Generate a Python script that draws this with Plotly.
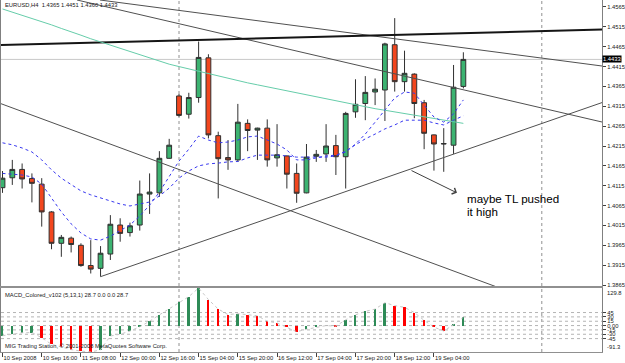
import plotly.graph_objects as go

# ---------------- data ----------------
bars = list(range(48))
x_ticks = [0, 4, 8, 12, 16, 20, 24, 28, 32, 36, 40, 44]
x_tick_labels = ["10 Sep 2008", "10 Sep 16:00", "11 Sep 08:00", "12 Sep 00:00", "12 Sep 16:00",
                 "15 Sep 04:00", "15 Sep 20:00", "16 Sep 12:00", "17 Sep 04:00", "17 Sep 20:00",
                 "18 Sep 12:00", "19 Sep 04:00"]

opens = [1.4110, 1.4135, 1.4156, 1.4133, 1.4119, 1.4049, 1.3970, 1.3983, 1.3965, 1.3914,
         1.3907, 1.3943, 1.4016, 1.3997, 1.4016, 1.4094, 1.4097, 1.4184, 1.4341, 1.4295,
         1.4337, 1.4437, 1.4241, 1.4186, 1.4180, 1.4272, 1.4255, 1.4260, 1.4185, 1.4190,
         1.4146, 1.4097, 1.4189, 1.4195, 1.4216, 1.4188, 1.4301, 1.4322, 1.4351, 1.4356,
         1.4470, 1.4377, 1.4396, 1.4324, 1.4243, 1.4220, 1.4217, 1.4365]
highs = [1.4152, 1.4180, 1.4171, 1.4146, 1.4134, 1.4051, 1.3991, 1.3987, 1.3970, 1.3978,
         1.3963, 1.4041, 1.4033, 1.4022, 1.4128, 1.4146, 1.4202, 1.4233, 1.4346, 1.4349,
         1.4478, 1.4446, 1.4251, 1.4230, 1.4321, 1.4282, 1.4261, 1.4282, 1.4270, 1.4191,
         1.4171, 1.4220, 1.4205, 1.4270, 1.4243, 1.4301, 1.4383, 1.4391, 1.4385, 1.4475,
         1.4537, 1.4455, 1.4398, 1.4331, 1.4244, 1.4260, 1.4419, 1.4451]
lows = [1.4097, 1.4117, 1.4108, 1.4073, 1.4012, 1.3955, 1.3936, 1.3947, 1.3911, 1.3894,
        1.3886, 1.3928, 1.3974, 1.3987, 1.4002, 1.4044, 1.4087, 1.4183, 1.4289, 1.4284,
        1.4324, 1.4234, 1.4083, 1.4155, 1.4175, 1.4202, 1.4180, 1.4163, 1.4163, 1.4108,
        1.4072, 1.4096, 1.4175, 1.4175, 1.4142, 1.4108, 1.4286, 1.4280, 1.4318, 1.4278,
        1.4352, 1.4352, 1.4285, 1.4207, 1.4153, 1.4150, 1.4195, 1.4360]
closes = [1.4134, 1.4156, 1.4132, 1.4121, 1.4049, 1.3970, 1.3985, 1.3967, 1.3914, 1.3905,
          1.3945, 1.4018, 1.3995, 1.4014, 1.4094, 1.4099, 1.4184, 1.4217, 1.4292, 1.4337,
          1.4438, 1.4243, 1.4183, 1.4180, 1.4275, 1.4254, 1.4260, 1.4180, 1.4193, 1.4144,
          1.4096, 1.4187, 1.4194, 1.4215, 1.4188, 1.4297, 1.4320, 1.4350, 1.4358, 1.4472,
          1.4377, 1.4398, 1.4322, 1.4247, 1.4220, 1.4221, 1.4363, 1.4433]

ma_fast = [1.4146, 1.4144, 1.4142, 1.4137, 1.4119, 1.4084, 1.4049, 1.4019, 1.3996, 1.3981,
           1.3978, 1.3988, 1.4001, 1.4016, 1.4039, 1.4066, 1.4099, 1.4137, 1.4177, 1.4207,
           1.4240, 1.4230, 1.4223, 1.4225, 1.4230, 1.4238, 1.4240, 1.4230, 1.4220, 1.4205,
           1.4180, 1.4180, 1.4185, 1.4190, 1.4192, 1.4200, 1.4220, 1.4245, 1.4275, 1.4306,
           1.4336, 1.4351, 1.4348, 1.4318, 1.4288, 1.4275, 1.4296, 1.4331]
ma_slow = [1.4223, 1.4218, 1.4210, 1.4200, 1.4180, 1.4155, 1.4134, 1.4117, 1.4102, 1.4092,
           1.4084, 1.4076, 1.4069, 1.4064, 1.4069, 1.4074, 1.4089, 1.4109, 1.4134, 1.4152,
           1.4165, 1.4170, 1.4172, 1.4175, 1.4176, 1.4185, 1.4192, 1.4192, 1.4192, 1.4190,
           1.4187, 1.4187, 1.4187, 1.4187, 1.4190, 1.4202, 1.4218, 1.4233, 1.4245, 1.4258,
           1.4268, 1.4280, 1.4280, 1.4280, 1.4273, 1.4268, 1.4280, 1.4291]
ma_long = [1.4560, 1.4552, 1.4545, 1.4537, 1.4528, 1.4520, 1.4511, 1.4503, 1.4494, 1.4485,
           1.4477, 1.4469, 1.4460, 1.4452, 1.4444, 1.4436, 1.4428, 1.4421, 1.4415, 1.4409,
           1.4403, 1.4397, 1.4391, 1.4385, 1.4380, 1.4374, 1.4369, 1.4364, 1.4358, 1.4353,
           1.4348, 1.4343, 1.4338, 1.4333, 1.4328, 1.4323, 1.4318, 1.4313, 1.4309, 1.4305,
           1.4301, 1.4296, 1.4292, 1.4288, 1.4284, 1.4280, 1.4276, 1.4272]

macd = [-35, -30, -25, -24, -42, -65, -75, -83, -88, -91.3,
        -84, -36, -30, -19, -4, 15, 37, 57, 80, 100,
        129.8, 90, 57, 38, 41, 37, 34, 15, 9, -6,
        -21, -13, -6, 0, -2, 20, 37, 49, 57, 79,
        69, 63, 45, 18, -5, -19, 3, 28.7]
macd_levels = [45, 30, 15, 0, -15, -30, -45]
macd_level_labels = ["45", "30", "15", "0.00", "-15", "-30", "-45"]
macd_max, macd_min = 129.8, -91.3

price_ticks = [1.3865, 1.3915, 1.3965, 1.4015, 1.4065, 1.4115, 1.4165, 1.4215,
               1.4265, 1.4315, 1.4365, 1.4415, 1.4465, 1.4515, 1.4565]
last_price = 1.4433

# user-drawn objects (bar index, price)
thin_lines = [((9.94, 1.45826), (61.14, 1.44164)),
              ((7.6, 1.45826), (61.14, 1.42754)),
              ((-0.153, 1.43215), (50.43, 1.38599)),
              ((10.0, 1.3886), (61.14, 1.43243))]
thick_line = ((-0.153, 1.44693), (61.14, 1.45083))
vlines = [18, 55]
arrow_from = (41.56, 1.4155)
arrow_to = (46.35, 1.4097)
note_lines = [("maybe TL pushed", 47.2, 1.4083), ("it high", 47.2, 1.4049)]

# ---------------- figure ----------------
XR = [-0.153, 61.14]
YR = [1.38625, 1.45826]
SMALL = dict(family="Liberation Sans, Arial, sans-serif", size=5.8, color="#202020")

fig = go.Figure()

for (x0, y0), (x1, y1) in thin_lines:
    fig.add_trace(go.Scatter(x=[x0, x1], y=[y0, y1], mode="lines", xaxis="x2", yaxis="y",
                             line=dict(color="#505050", width=1), hoverinfo="skip", showlegend=False))
(x0, y0), (x1, y1) = thick_line
fig.add_trace(go.Scatter(x=[x0, x1], y=[y0, y1], mode="lines", xaxis="x2", yaxis="y",
                         line=dict(color="#151515", width=2), hoverinfo="skip", showlegend=False))

fig.add_trace(go.Scatter(x=bars, y=ma_long, mode="lines", xaxis="x2", yaxis="y",
                         line=dict(color="#66CDAA", width=1), hoverinfo="skip", showlegend=False))
fig.add_trace(go.Scatter(x=bars, y=ma_slow, mode="lines", xaxis="x2", yaxis="y",
                         line=dict(color="#3838F0", width=1, dash="dot"), hoverinfo="skip", showlegend=False))
fig.add_trace(go.Scatter(x=bars, y=ma_fast, mode="lines", xaxis="x2", yaxis="y",
                         line=dict(color="#3838F0", width=1, dash="dot"), hoverinfo="skip", showlegend=False))

fig.add_trace(go.Candlestick(
    x=bars, open=opens, high=highs, low=lows, close=closes, xaxis="x2", yaxis="y",
    increasing=dict(fillcolor="#3CB371", line=dict(color="#303030", width=1)),
    decreasing=dict(fillcolor="#F2461E", line=dict(color="#303030", width=1)),
    whiskerwidth=0, showlegend=False, hoverinfo="skip"))

colors = []
for i, v in enumerate(macd):
    up = i == 0 or v >= macd[i - 1]
    colors.append("#2E8B57" if up else "#FF0000")
fig.add_trace(go.Bar(x=bars, y=macd, marker=dict(color=colors, line=dict(width=0)), width=0.2,
                     xaxis="x", yaxis="y2", hoverinfo="skip", showlegend=False))
fig.add_trace(go.Scatter(x=bars, y=macd, mode="lines", xaxis="x", yaxis="y2",
                         line=dict(color="#C8C8C8", width=1, dash="dot"), hoverinfo="skip", showlegend=False))

shapes = []
for v in vlines:
    shapes.append(dict(type="line", xref="x", yref="paper", x0=v, x1=v, y0=0, y1=1,
                       line=dict(color="#909090", width=1, dash="dot"), layer="below"))
shapes.append(dict(type="line", xref="paper", yref="y", x0=0, x1=1, y0=last_price, y1=last_price,
                   line=dict(color="#C8C8C8", width=1), layer="below"))
for lv in macd_levels:
    shapes.append(dict(type="line", xref="paper", yref="y2", x0=0, x1=1, y0=lv, y1=lv,
                       line=dict(color="#B4B4B4", width=1, dash="dot"), layer="below"))

annotations = [
    dict(text="EURUSD,H4  1.4365 1.4451 1.4360 1.4433", xref="paper", yref="paper",
         x=0.004, y=1.0, xanchor="left", yanchor="top", showarrow=False, font=SMALL),
    dict(text="MACD_Colored_v102 (5,13,1) 28.7 0.0 0.0 28.7", xref="paper", yref="paper",
         x=0.004, y=0.162, xanchor="left", yanchor="middle", showarrow=False, font=SMALL),
    dict(text="MIG Trading Station, © 2001-2008 MetaQuotes Software Corp.", xref="paper", yref="paper",
         x=0.004, y=0.016, xanchor="left", yanchor="middle", showarrow=False, font=SMALL),
    dict(text=f"{last_price:.4f}", xref="paper", yref="y", x=1.0, y=last_price, xanchor="left",
         yanchor="middle", showarrow=False, bgcolor="#000000", borderpad=0,
         font=dict(family="Liberation Sans, Arial, sans-serif", size=5.8, color="#FFFFFF")),
    dict(text=f"{macd_max}", xref="paper", yref="y2", x=1.0, y=macd_max, xanchor="left", yanchor="top",
         xshift=3, showarrow=False, font=SMALL),
    dict(text=f"{macd_min}", xref="paper", yref="y2", x=1.0, y=macd_min, xanchor="left", yanchor="bottom",
         xshift=3, showarrow=False, font=SMALL),
    dict(text="", xref="x2", yref="y", axref="x2", ayref="y", x=arrow_to[0], y=arrow_to[1],
         ax=arrow_from[0], ay=arrow_from[1], showarrow=True, arrowhead=4, arrowsize=1.3,
         arrowwidth=1, arrowcolor="#404040"),
]
for txt, nx, ny in note_lines:
    annotations.append(dict(text=txt, xref="x2", yref="y", x=nx, y=ny, xanchor="left", yanchor="middle",
                            showarrow=False,
                            font=dict(family="Liberation Sans, Arial, sans-serif", size=11.6, color="#000000")))

fig.update_layout(
    width=625, height=363, margin=dict(l=1, r=23, t=0, b=11),
    paper_bgcolor="#FFFFFF", plot_bgcolor="#FFFFFF", boxgap=0.3,
    showlegend=False, bargap=0,
    xaxis=dict(domain=[0, 1], anchor="y2", range=XR, tickvals=x_ticks, ticktext=x_tick_labels,
               tickangle=0, ticks="outside", ticklen=4, tickcolor="#404040", tickfont=SMALL,
               ticklabelposition="outside right", showgrid=False, zeroline=False,
               showline=True, linecolor="#909090", linewidth=1, mirror=True,
               rangeslider=dict(visible=False), fixedrange=True),
    xaxis2=dict(domain=[0, 1], anchor="y", matches="x", range=XR, showticklabels=False, ticks="",
                showgrid=False, zeroline=False, showline=True, linecolor="#909090", linewidth=2,
                rangeslider=dict(visible=False)),
    yaxis=dict(domain=[0.1875, 1], anchor="x2", side="right", range=YR, tickvals=price_ticks,
               tickformat=".4f", ticks="outside", ticklen=3, tickcolor="#404040", tickfont=SMALL,
               showgrid=False, zeroline=False, showline=True, linecolor="#808080", linewidth=1,
               mirror=True),
    yaxis2=dict(domain=[0, 0.1818], anchor="x", side="right", range=[macd_min, macd_max],
                tickvals=macd_levels, ticktext=macd_level_labels, ticks="outside", ticklen=3,
                tickcolor="#404040", tickfont=SMALL, showgrid=False, zeroline=False,
                showline=True, linecolor="#808080", linewidth=1, mirror=True),
    shapes=shapes, annotations=annotations,
)

fig.write_html("out.html")
